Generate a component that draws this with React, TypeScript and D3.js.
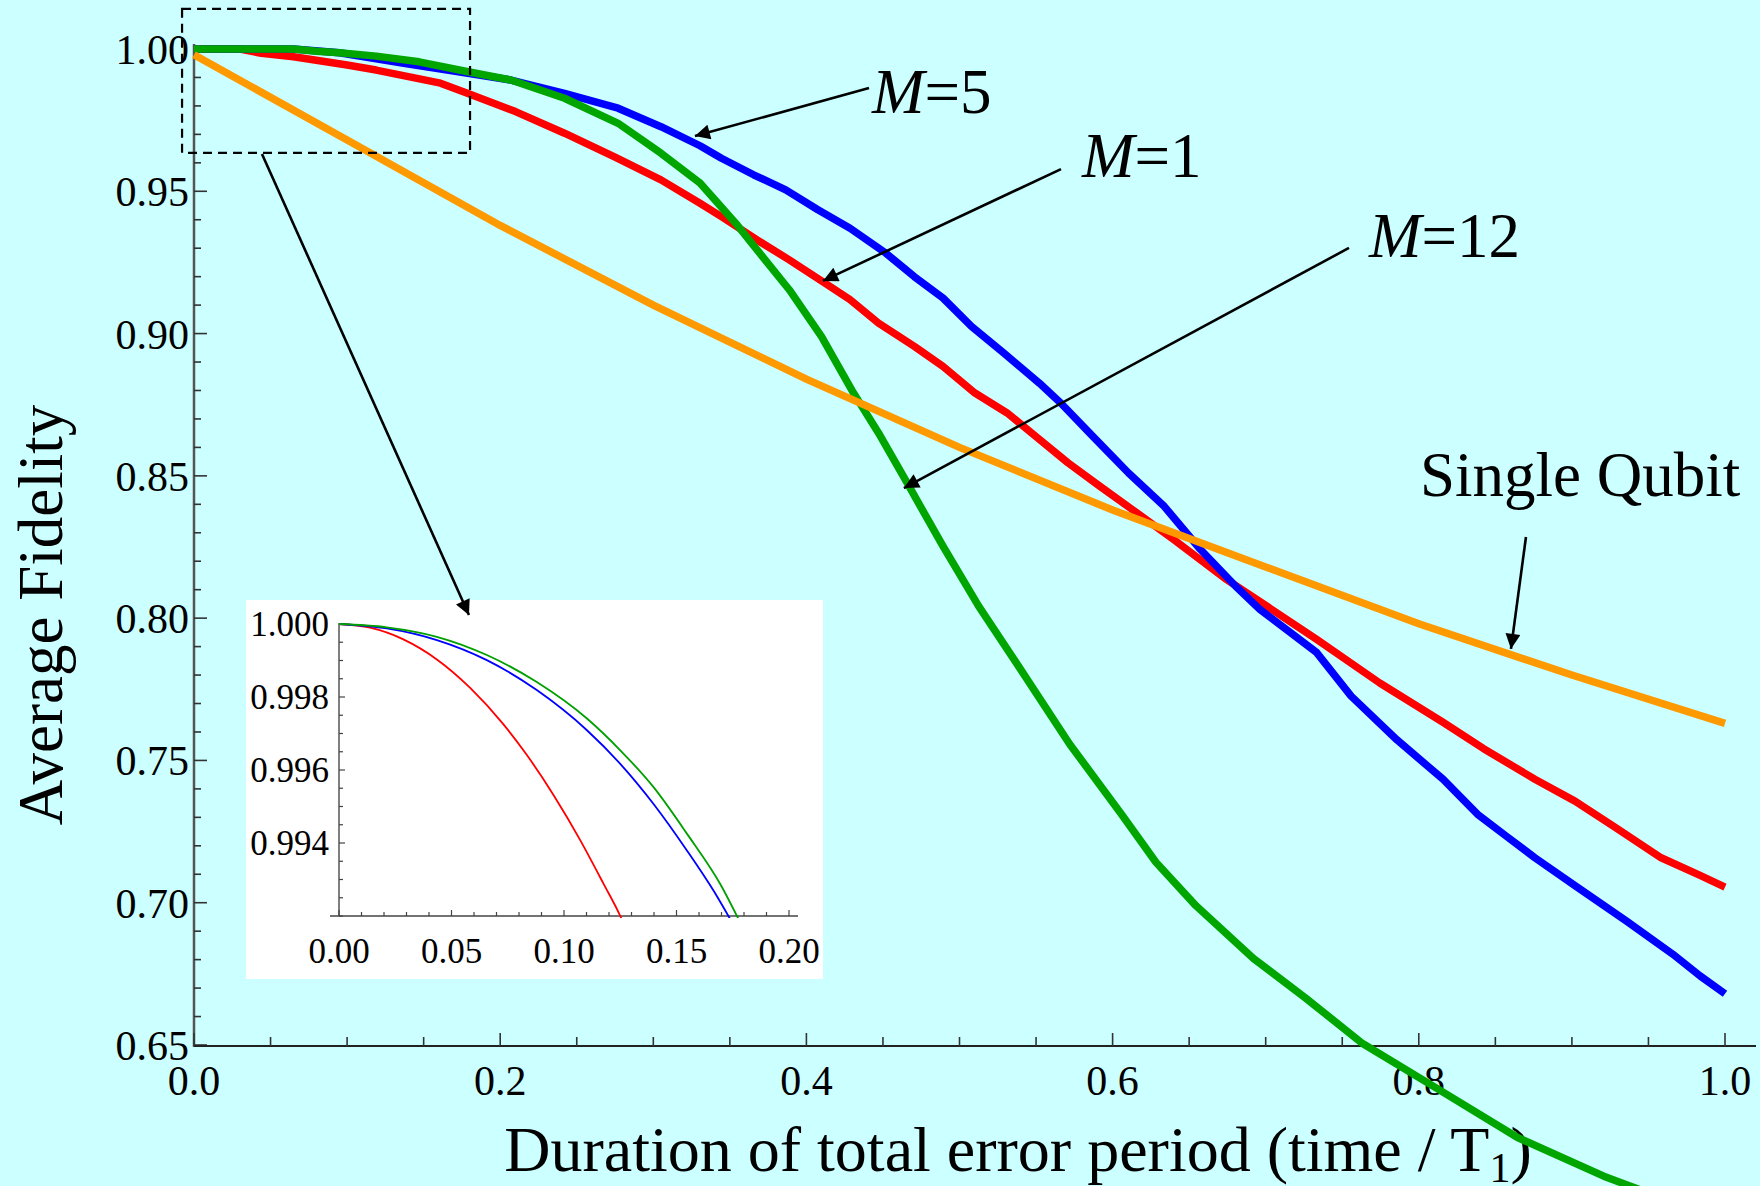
import * as d3 from "d3";

// main plot ticks
const xMajor = [0, 0.2, 0.4, 0.6, 0.8, 1.0];
const xMinor = d3.range(0, 1.0001, 0.05);
const yMajor = [0.65, 0.7, 0.75, 0.8, 0.85, 0.9, 0.95, 1.0];
const yMinor = d3.range(0.65, 1.0001, 0.01);

// inset ticks
const inXMajor = [0, 0.05, 0.1, 0.15, 0.2];
const inXMinor = d3.range(0, 0.2001, 0.01);
const inYMajor = [0.994, 0.996, 0.998, 1.0];
const inYMinor = d3.range(0.992, 1.00001, 0.0005);

// series: [time / T1, average fidelity]
const singleQubit: [number, number][] = [
  [0, 0.998], [0.1, 0.968], [0.2, 0.938], [0.3, 0.910], [0.4, 0.884], [0.5, 0.860],
  [0.6, 0.838], [0.7, 0.818], [0.8, 0.798], [0.9, 0.780], [1.0, 0.763],
];

const m1: [number, number][] = [
  [0, 1.0], [0.03, 1.0], [0.044, 0.9985], [0.065, 0.9973], [0.1, 0.9944], [0.119, 0.9926],
  [0.161, 0.988], [0.179, 0.9844], [0.21, 0.978], [0.242, 0.9704], [0.275, 0.962],
  [0.305, 0.954], [0.3305, 0.9458], [0.3445, 0.9411], [0.3678, 0.9329], [0.3888, 0.9259],
  [0.4121, 0.9177], [0.4285, 0.9119], [0.4471, 0.9037], [0.4705, 0.8955], [0.4892, 0.8885],
  [0.5101, 0.8791], [0.5311, 0.8721], [0.5498, 0.8639], [0.5708, 0.8546], [0.5918, 0.8463],
  [0.6128, 0.8382], [0.6394, 0.8278], [0.6733, 0.814], [0.7033, 0.8033], [0.7333, 0.7925],
  [0.7745, 0.7772], [0.8158, 0.7634], [0.8421, 0.7542], [0.8758, 0.7434], [0.902, 0.7357],
  [0.9283, 0.7265], [0.9583, 0.7158], [0.9837, 0.7096], [1.0, 0.7055],
];

const m5: [number, number][] = [
  [0, 1.0], [0.065, 1.0], [0.095, 0.9987], [0.137, 0.995], [0.179, 0.9915], [0.207, 0.9891],
  [0.242, 0.9844], [0.277, 0.9792], [0.305, 0.9727], [0.3305, 0.966], [0.3445, 0.9616],
  [0.3655, 0.9558], [0.3865, 0.9505], [0.4075, 0.9435], [0.4285, 0.937], [0.4518, 0.9283],
  [0.4705, 0.92], [0.4892, 0.9125], [0.5078, 0.9025], [0.5288, 0.8932], [0.5521, 0.8826],
  [0.5661, 0.8756], [0.5871, 0.8639], [0.6104, 0.851], [0.6337, 0.8393], [0.6571, 0.8243],
  [0.6804, 0.8112], [0.6963, 0.803], [0.7146, 0.7956], [0.7333, 0.7879], [0.7558, 0.7726],
  [0.7858, 0.7572], [0.8158, 0.7434], [0.8383, 0.7311], [0.8571, 0.7234], [0.8758, 0.7158],
  [0.902, 0.706], [0.9357, 0.6935], [0.9657, 0.682], [0.9837, 0.6743], [1.0, 0.668],
];

const m12: [number, number][] = [
  [0, 1.0], [0.065, 1.0], [0.08, 0.9992], [0.095, 0.9987], [0.119, 0.9975], [0.147, 0.9955],
  [0.179, 0.992], [0.207, 0.9891], [0.242, 0.9827], [0.277, 0.9739], [0.305, 0.9634],
  [0.3305, 0.9529], [0.3538, 0.9388], [0.3678, 0.9294], [0.3888, 0.9154], [0.4098, 0.899],
  [0.4308, 0.8791], [0.4471, 0.8651], [0.4658, 0.8475], [0.4892, 0.8253], [0.5125, 0.8042],
  [0.5345, 0.7864], [0.572, 0.7557], [0.6058, 0.7311], [0.6283, 0.7142], [0.6545, 0.6989],
  [0.692, 0.6804], [0.7258, 0.6666], [0.7633, 0.6505], [0.8083, 0.6359], [0.8645, 0.6175],
  [0.9208, 0.6039], [0.96, 0.596], [1.0, 0.589],
];

// inset series (short times)
const inM1: [number, number][] = [
  [0, 1.0], [0.0138, 0.9999], [0.0286, 0.99958], [0.0435, 0.99903], [0.0583, 0.99825],
  [0.0731, 0.99725], [0.0835, 0.99641], [0.0954, 0.99531], [0.1072, 0.99408],
  [0.1176, 0.99288], [0.125, 0.992], [0.128, 0.99157],
];
const inM5: [number, number][] = [
  [0, 1.0], [0.0212, 0.99988], [0.0435, 0.99956], [0.0657, 0.99901], [0.0879, 0.99819],
  [0.1102, 0.99709], [0.125, 0.99617], [0.1398, 0.99507], [0.1547, 0.99379],
  [0.1665, 0.99269], [0.1739, 0.99191],
];
const inM12: [number, number][] = [
  [0, 1.0], [0.0212, 0.99991], [0.0435, 0.99965], [0.0657, 0.99915], [0.0879, 0.99841],
  [0.1102, 0.99741], [0.125, 0.99654], [0.1398, 0.99553], [0.1547, 0.99425],
  [0.1695, 0.99287], [0.1776, 0.99191],
];

const W = 1760;
const H = 1186;
const FONT = "'Liberation Serif', 'Times New Roman', serif";

const x = d3.scaleLinear().domain([0, 1]).range([194, 1725]);
const y = d3.scaleLinear().domain([0.65, 1]).range([1045, 49]);
const ix = d3.scaleLinear().domain([0, 0.2]).range([339, 789]);
const iy = d3.scaleLinear().domain([0.992, 1]).range([916, 624]);

const line = d3.line<[number, number]>().x((d) => x(d[0])).y((d) => y(d[1]));
const inLine = d3
  .line<[number, number]>()
  .x((d) => ix(d[0]))
  .y((d) => iy(d[1]))
  .curve(d3.curveMonotoneX);

const isMajor = (v: number, list: number[]) => list.some((m) => Math.abs(m - v) < 1e-6);

// annotation arrows in data space [t0, F0, t1, F1]
const arrows = [
  [0.4409, 0.9863, 0.3272, 0.9694],
  [0.5663, 0.9578, 0.4108, 0.9185],
  [0.7544, 0.9301, 0.4637, 0.8457],
  [0.87, 0.8285, 0.8602, 0.7892],
  [0.0444, 0.9631, 0.1796, 0.8011],
];

export default function App() {
  return (
    <svg
      width={W}
      height={H}
      style={{ position: "absolute", left: 0, top: 0, overflow: "hidden" }}
      fontFamily={FONT}
    >
      <defs>
        <marker
          id="ah"
          viewBox="0 0 10 10"
          refX={10}
          refY={5}
          markerWidth={22}
          markerHeight={15}
          markerUnits="userSpaceOnUse"
          orient="auto"
        >
          <path d="M0,0 L10,5 L0,10 z" fill="#000" />
        </marker>
        <clipPath id="inclip">
          <rect x={330} y={600} width={480} height={318} />
        </clipPath>
      </defs>
      <rect width={W} height={H} fill="#ccffff" />

      {/* y axis */}
      <line x1={194} x2={194} y1={44} y2={1047} stroke="#555" strokeWidth={2.5} />
      {yMinor.map((v, i) => (
        <line
          key={"ym" + i}
          x1={194}
          x2={194 + (isMajor(v, yMajor) ? 13 : 7)}
          y1={y(v)}
          y2={y(v)}
          stroke="#333"
          strokeWidth={1.6}
        />
      ))}
      {yMajor.map((v) => (
        <text key={"yl" + v} x={189} y={y(v) + 15} fontSize={42} textAnchor="end" fill="#000">
          {d3.format(".2f")(v)}
        </text>
      ))}

      {/* x axis */}
      <line x1={194} x2={1756} y1={1046} y2={1046} stroke="#222" strokeWidth={2.2} />
      {xMinor.map((v, i) => (
        <line
          key={"xm" + i}
          x1={x(v)}
          x2={x(v)}
          y1={1046}
          y2={1046 - (isMajor(v, xMajor) ? 13 : 9)}
          stroke="#333"
          strokeWidth={1.6}
        />
      ))}
      {xMajor.map((v) => (
        <text key={"xl" + v} x={x(v)} y={1095} fontSize={42} textAnchor="middle" fill="#000">
          {d3.format(".1f")(v)}
        </text>
      ))}

      {/* axis titles */}
      <text x={1018} y={1171} fontSize={64} textAnchor="middle" fill="#000">
        Duration of total error period (time / T
        <tspan fontSize={42} dy={11}>1</tspan>
        <tspan dy={-11}>)</tspan>
      </text>
      <text
        transform="translate(62,615) rotate(-90)"
        fontSize={63}
        textAnchor="middle"
        fill="#000"
      >
        Average Fidelity
      </text>

      {/* curves */}
      <path d={line(m1) || undefined} fill="none" stroke="#ff0000" strokeWidth={7.5} strokeLinejoin="round" />
      <path d={line(m5) || undefined} fill="none" stroke="#0000ff" strokeWidth={7.5} strokeLinejoin="round" />
      <path d={line(m12) || undefined} fill="none" stroke="#00a500" strokeWidth={7.5} strokeLinejoin="round" />
      <path d={line(singleQubit) || undefined} fill="none" stroke="#ff9900" strokeWidth={7.5} />

      {/* zoom box */}
      <rect
        x={x(-0.0078)}
        y={y(1.0141)}
        width={x(0.1803) - x(-0.0078)}
        height={y(0.9635) - y(1.0141)}
        fill="none"
        stroke="#000"
        strokeWidth={2.2}
        strokeDasharray="9,6"
      />

      {/* inset */}
      <rect x={246} y={600} width={577} height={379} fill="#fff" />
      <line x1={339} x2={339} y1={623} y2={916} stroke="#555" strokeWidth={1.5} />
      <line x1={330} x2={798} y1={916} y2={916} stroke="#444" strokeWidth={1.5} />
      {inYMinor.map((v, i) => (
        <line
          key={"iym" + i}
          x1={339}
          x2={339 + (isMajor(v, inYMajor) ? 6 : 4)}
          y1={iy(v)}
          y2={iy(v)}
          stroke="#444"
          strokeWidth={1.2}
        />
      ))}
      {inXMinor.map((v, i) => (
        <line
          key={"ixm" + i}
          x1={ix(v)}
          x2={ix(v)}
          y1={916}
          y2={916 - (isMajor(v, inXMajor) ? 6 : 4)}
          stroke="#444"
          strokeWidth={1.2}
        />
      ))}
      {inYMajor.map((v) => (
        <text key={"iyl" + v} x={329} y={iy(v) + 12} fontSize={35} textAnchor="end" fill="#000">
          {d3.format(".3f")(v)}
        </text>
      ))}
      {inXMajor.map((v) => (
        <text key={"ixl" + v} x={ix(v)} y={963} fontSize={35} textAnchor="middle" fill="#000">
          {d3.format(".2f")(v)}
        </text>
      ))}
      <g clipPath="url(#inclip)">
        <path d={inLine(inM1) || undefined} fill="none" stroke="#ff0000" strokeWidth={1.8} />
        <path d={inLine(inM5) || undefined} fill="none" stroke="#0000ff" strokeWidth={1.8} />
        <path d={inLine(inM12) || undefined} fill="none" stroke="#00a000" strokeWidth={1.8} />
      </g>

      {/* arrows */}
      {arrows.map((a, i) => (
        <line
          key={"ar" + i}
          x1={x(a[0])}
          y1={y(a[1])}
          x2={x(a[2])}
          y2={y(a[3])}
          stroke="#000"
          strokeWidth={2.6}
          markerEnd="url(#ah)"
        />
      ))}

      {/* labels */}
      <text x={872} y={113} fontSize={63} fill="#000">
        <tspan fontStyle="italic">M</tspan>=5
      </text>
      <text x={1082} y={177} fontSize={63} fill="#000">
        <tspan fontStyle="italic">M</tspan>=1
      </text>
      <text x={1369} y={257} fontSize={63} fill="#000">
        <tspan fontStyle="italic">M</tspan>=12
      </text>
      <text x={1420} y={496} fontSize={63} fill="#000">
        Single Qubit
      </text>
    </svg>
  );
}
